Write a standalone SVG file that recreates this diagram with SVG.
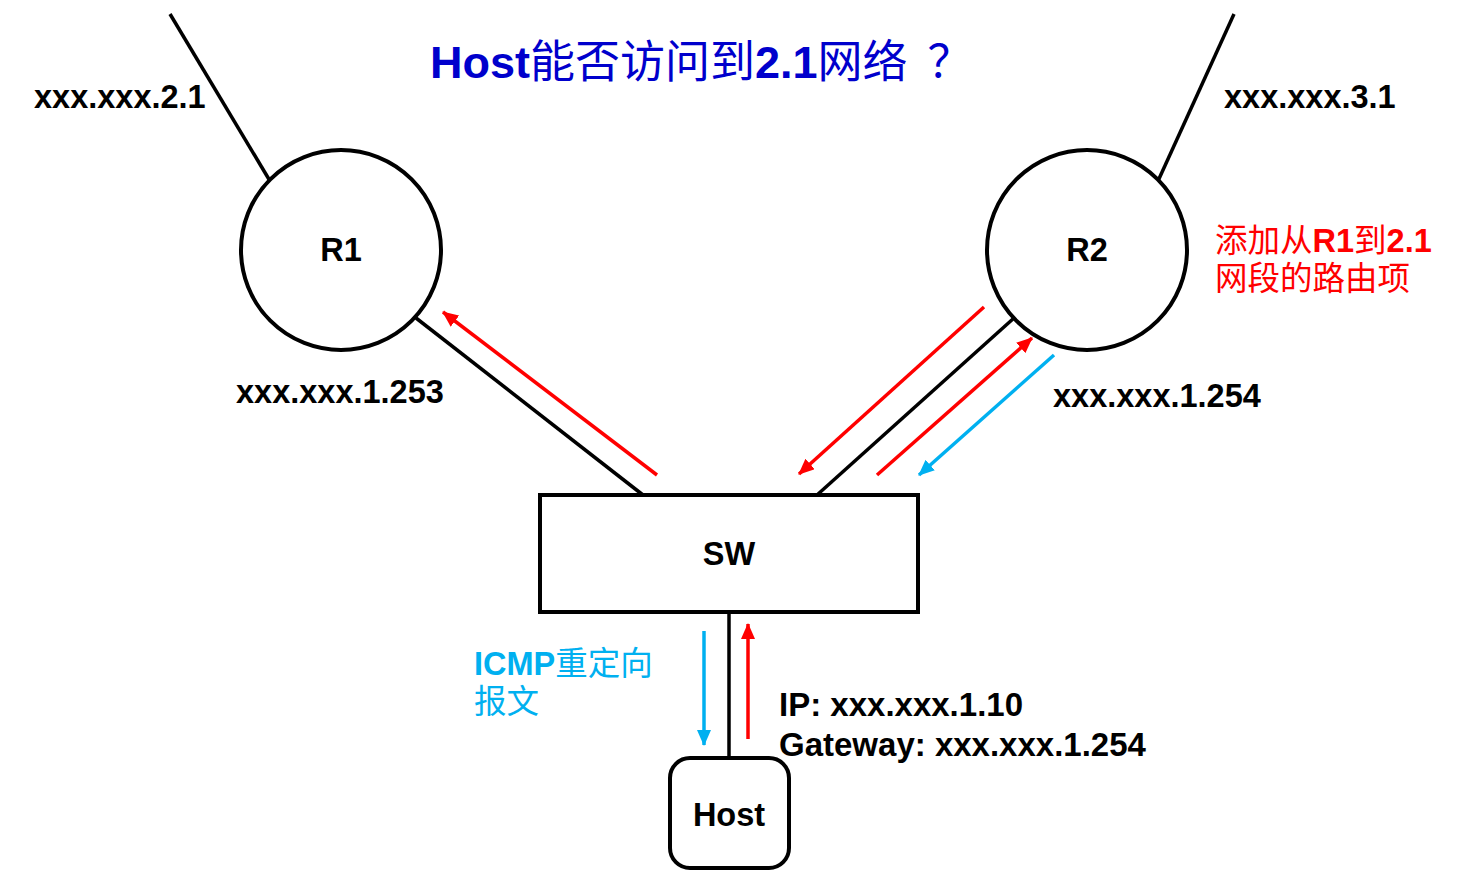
<svg xmlns="http://www.w3.org/2000/svg" width="1477" height="894" viewBox="0 0 1477 894">
<style>
.t{font-family:"Liberation Sans","Noto Sans CJK SC",sans-serif;font-size:32.5px}
.b{font-weight:bold}
.cjk{font-family:"Noto Sans CJK SC",sans-serif}
.title{font-size:45px;fill:#0000cc}
.shape{fill:#fff;stroke:#000;stroke-width:4}
.wire{stroke:#000;stroke-width:3.5;fill:none}
.red{stroke:#ff0000;stroke-width:3.5;fill:none}
.blue{stroke:#00b0f0;stroke-width:3.5;fill:none}
</style>
<defs>
<marker id="ahR" markerUnits="userSpaceOnUse" markerWidth="16" markerHeight="14" refX="15" refY="7" orient="auto"><path d="M0,0 L16,7 L0,14 z" fill="#ff0000"/></marker>
<marker id="ahB" markerUnits="userSpaceOnUse" markerWidth="16" markerHeight="14" refX="15" refY="7" orient="auto"><path d="M0,0 L16,7 L0,14 z" fill="#00b0f0"/></marker>
</defs>
<rect width="1477" height="894" fill="#fff"/>
<g id="connectors">
<line class="wire" x1="170" y1="14" x2="270" y2="181"/>
<line class="wire" x1="1234" y1="14" x2="1158" y2="181"/>
<line class="wire" x1="416" y1="318" x2="643" y2="495"/>
<line class="wire" x1="1014" y1="318" x2="817" y2="495"/>
<line class="wire" x1="729" y1="612" x2="729" y2="758"/>
<line class="red" x1="657" y1="475" x2="443" y2="312" marker-end="url(#ahR)"/>
<line class="red" x1="984" y1="307" x2="799" y2="474" marker-end="url(#ahR)"/>
<line class="red" x1="877" y1="475" x2="1032" y2="338" marker-end="url(#ahR)"/>
<line class="blue" x1="1054" y1="355" x2="919" y2="475" marker-end="url(#ahB)"/>
<line class="blue" x1="704" y1="631" x2="704" y2="745" marker-end="url(#ahB)"/>
<line class="red" x1="748" y1="739" x2="748" y2="624" marker-end="url(#ahR)"/>
</g>
<g id="R1"><circle class="shape" cx="341" cy="250" r="100"/><text class="t b" x="341" y="261" text-anchor="middle">R1</text></g>
<g id="R2"><circle class="shape" cx="1087" cy="250" r="100"/><text class="t b" x="1087" y="261" text-anchor="middle">R2</text></g>
<g id="SW"><rect class="shape" x="540" y="495" width="378" height="117"/><text class="t b" x="729" y="565" text-anchor="middle">SW</text></g>
<g id="Host"><rect class="shape" x="670" y="758" width="119" height="110" rx="20"/><text class="t b" x="729" y="826" text-anchor="middle">Host</text></g>
<g id="labels">
<text class="t title" x="430" y="78"><tspan class="b">Host</tspan>能否访问到<tspan class="b">2.1</tspan>网络<tspan class="cjk" dx="20">？</tspan></text>
<text class="t b" x="34" y="108">xxx.xxx.2.1</text>
<text class="t b" x="1224" y="108">xxx.xxx.3.1</text>
<text class="t b" x="236" y="403">xxx.xxx.1.253</text>
<text class="t b" x="1053" y="407">xxx.xxx.1.254</text>
<text class="t" x="1215" y="252" fill="#ff0000">添加从<tspan class="b">R1</tspan>到<tspan class="b">2.1</tspan></text>
<text class="t" x="1215" y="290" fill="#ff0000">网段的路由项</text>
<text class="t" x="474" y="675" fill="#00b0f0"><tspan class="b">ICMP</tspan>重定向</text>
<text class="t" x="474" y="713" fill="#00b0f0">报文</text>
<text class="t b" x="779" y="716" style="font-size:33px">IP: xxx.xxx.1.10</text>
<text class="t b" x="779" y="756" style="font-size:33px">Gateway: xxx.xxx.1.254</text>
</g>
</svg>
